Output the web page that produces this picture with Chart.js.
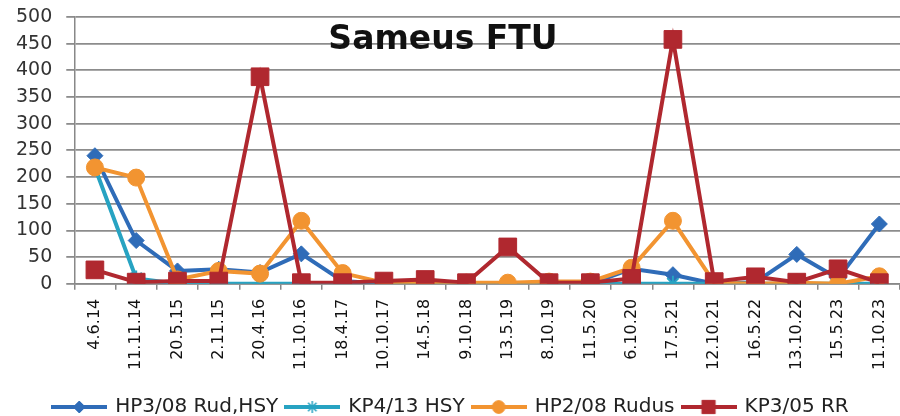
<!DOCTYPE html>
<html>
<head>
<meta charset="utf-8">
<script src="https://cdn.jsdelivr.net/npm/chart.js@4.4.1/dist/chart.umd.min.js"></script>
<style>
    html, body { margin: 0; padding: 0; background: #fff; }
    #wrap { position: relative; width: 900px; height: 416px; }
    #title {
        position: absolute; left: 0; width: 886px; top: 18px; line-height: 33px;
        text-align: center; font: bold 33px "DejaVu Sans", sans-serif; color: #111;
        pointer-events: none;
    }
</style>
</head>
<body>
<div id="wrap">
    <canvas id="chart" width="900" height="416"></canvas>
    <div id="title">Sameus FTU</div>
</div>
<script>
    // Sampling dates
    const dates = ['4.6.14', '11.11.14', '20.5.15', '2.11.15', '20.4.16', '11.10.16', '18.4.17', '10.10.17',
        '14.5.18', '9.10.18', '13.5.19', '8.10.19', '11.5.20', '6.10.20', '17.5.21', '12.10.21',
        '16.5.22', '13.10.22', '15.5.23', '11.10.23'];

    // FTU values per well
    const hp308 = [240, 81, 24, 27, 21, 56, 5, 0, 0, 0, 0, 0, 0, 28, 17, 0, 3, 55, 10, 112];
    const kp413 = [218, 10, 0, 0, 0, 0, 0, 0, 0, 0, 0, 0, 0, 0, 0, 0, 0, 0, 0, 0];
    const hp208 = [218, 199, 8, 24, 19, 118, 20, 2, 3, 2, 2, 4, 4, 30, 118, 2, 0, 2, 0, 14];
    const kp305 = [26, 3, 5, 5, 388, 2, 2, 5, 8, 2, 69, 2, 2, 10, 458, 4, 13, 3, 28, 2];

    const seriesNames = ['HP3/08 Rud,HSY', 'KP4/13 HSY', 'HP2/08 Rudus', 'KP3/05 RR'];
    const yTicks = [0, 50, 100, 150, 200, 250, 300, 350, 400, 450, 500];

    const colors = ['#2f6cb8', '#27a3c2', '#f29431', '#b0282f'];
    const styles = ['rectRot', 'star', 'circle', 'rect'];
    const radii = [8, 8, 8.5, 12.5];

    // Legend icons: short line with the marker in the middle
    function makeIcon(i) {
        const c = document.createElement('canvas');
        c.width = 56; c.height = 20;
        const ctx = c.getContext('2d');
        ctx.strokeStyle = colors[i];
        ctx.fillStyle = colors[i];
        ctx.lineWidth = 4;
        ctx.beginPath();
        ctx.moveTo(0, 10); ctx.lineTo(56, 10);
        ctx.stroke();
        ctx.lineWidth = i === 1 ? 1.5 : 1;
        Chart.helpers.drawPoint(ctx, {
            pointStyle: styles[i], radius: radii[i] * 0.75, rotation: 0, borderWidth: ctx.lineWidth
        }, 28, 10);
        return c;
    }

    const values = [hp308, kp413, hp208, kp305];
    const datasets = values.map((v, i) => ({
        label: seriesNames[i],
        data: v,
        order: 3 - i,
        borderColor: colors[i],
        backgroundColor: colors[i],
        pointStyle: styles[i],
        pointRadius: radii[i],
        pointBorderWidth: i === 1 ? 2 : 1,
        borderWidth: 4,
        tension: 0
    }));

    const icons = [0, 1, 2, 3].map(makeIcon);

    new Chart(document.getElementById('chart').getContext('2d'), {
        type: 'line',
        data: { labels: dates, datasets: datasets },
        options: {
            responsive: false,
            animation: false,
            layout: { autoPadding: false, padding: { top: 0, right: 0, left: 2, bottom: -11 } },
            scales: {
                x: {
                    offset: true,
                    grid: { display: true, drawOnChartArea: false, offset: true, color: '#888', lineWidth: 1.5, tickLength: 6 },
                    border: { color: '#888', width: 1.5 },
                    ticks: {
                        minRotation: 90, maxRotation: 90, autoSkip: false,
                        color: '#111', font: { family: 'DejaVu Sans', size: 16 }, padding: 9
                    },
                    afterFit: (axis) => {
                        axis.height += 10;
                        axis.paddingLeft = 0;
                        axis.paddingRight = 0;
                    }
                },
                y: {
                    min: 0, max: 500,
                    afterBuildTicks: (axis) => { axis.ticks = yTicks.map(v => ({ value: v })); },
                    afterFit: (axis) => {
                        axis.paddingTop = 17;
                        axis.paddingBottom = 0;
                    },
                    grid: { color: '#8c8c8c', lineWidth: 1.8, tickLength: 8 },
                    border: { color: '#888', width: 1.5 },
                    ticks: { autoSkip: false, color: '#333', font: { family: 'DejaVu Sans', size: 19 }, padding: 14 }
                }
            },
            plugins: {
                legend: {
                    position: 'bottom',
                    labels: {
                        usePointStyle: true,
                        pointStyleWidth: 52,
                        boxHeight: 20,
                        padding: 8,
                        color: '#222',
                        font: { family: 'DejaVu Sans', size: 20 },
                        sort: (a, b) => a.datasetIndex - b.datasetIndex,
                        generateLabels: (chart) => {
                            const items = Chart.defaults.plugins.legend.labels.generateLabels(chart);
                            items.forEach((it) => { it.pointStyle = icons[it.datasetIndex]; });
                            return items;
                        }
                    }
                },
                tooltip: { enabled: false }
            }
        }
    });
</script>
</body>
</html>
